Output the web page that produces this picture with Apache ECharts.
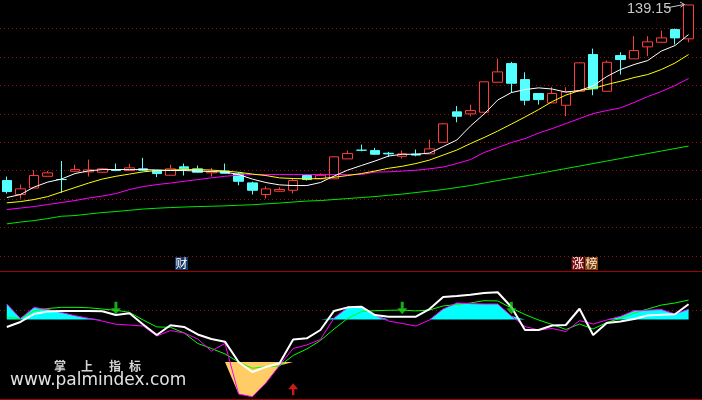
<!DOCTYPE html>
<html><head><meta charset="utf-8">
<script src="https://cdn.jsdelivr.net/npm/echarts@6/dist/echarts.min.js"></script>
<style>html,body{margin:0;padding:0;background:#000;}#c{width:702px;height:400px;}</style>
</head><body><div id="c"></div>
<script>
const days = ['01','02','03','04','05','06','07','08','09','10','11','12','13','14','15','16','17','18','19','20',
'21','22','23','24','25','26','27','28','29','30','31','32','33','34','35','36','37','38','39','40',
'41','42','43','44','45','46','47','48','49','50','51'];

// [open, close, low, high]
const candles = [
[108.27,106.33,105.98,108.97],[105.81,106.81,105.10,107.56],[106.95,109.15,106.95,110.08],[109.02,109.62,109.02,109.94],
[108.45,108.44,106.10,111.70],[109.90,110.20,109.85,111.08],[109.80,110.15,108.97,111.96],[109.73,110.33,109.67,110.50],
[110.20,110.03,109.94,111.26],[110.03,110.50,110.03,111.20],[110.33,110.08,110.03,112.26],[110.08,109.50,108.88,110.10],
[109.20,110.33,109.20,111.08],[110.68,110.33,109.15,111.26],[110.33,109.73,109.67,110.91],[109.62,109.85,108.97,110.50],
[109.94,109.55,109.50,111.26],[109.45,108.14,107.44,109.76],[107.86,106.56,105.81,108.09],[105.81,106.81,105.10,107.27],
[106.39,106.69,106.33,107.09],[106.56,108.27,105.98,108.74],[109.15,108.44,108.27,109.32],[108.57,109.20,108.44,109.50],
[108.57,112.44,108.57,112.49],[112.08,113.02,112.08,113.54],[113.61,113.60,113.42,114.60],[113.54,112.89,112.84,114.02],
[113.07,112.96,112.44,113.32],[112.54,112.96,112.14,113.54],[112.93,112.75,112.54,113.72],[112.96,113.84,112.96,115.48],
[115.00,118.24,115.00,118.38],[120.35,119.58,118.52,121.37],[120.00,120.58,119.58,121.63],[120.28,125.63,120.28,125.68],
[125.56,127.38,125.56,129.72],[128.84,125.38,123.69,129.14],[126.03,122.39,121.51,127.31],[123.57,122.51,121.63,123.66],
[121.93,123.57,121.90,124.75],[121.51,123.87,119.58,124.68],[123.97,128.97,123.97,129.02],[130.43,124.40,123.27,131.48],
[123.97,129.07,123.97,129.37],[130.25,129.55,126.91,130.83],[129.67,131.13,129.67,133.65],[131.78,132.66,130.13,133.65],
[132.59,133.36,132.59,134.65],[134.82,133.36,132.19,135.00],[133.19,139.15,132.59,139.15]];

const ma5 = [105.28,105.81,107.12,108.00,108.53,109.50,109.97,110.20,110.20,110.20,
110.20,110.11,110.03,110.03,109.94,109.85,109.76,109.32,108.53,107.92,
107.51,107.39,107.39,107.92,109.06,110.11,110.91,111.70,112.58,112.89,
112.89,113.10,114.25,115.39,117.85,119.96,122.43,123.74,124.27,124.57,
124.36,123.83,124.10,124.92,126.56,127.79,128.67,129.37,131.04,132.01,133.94];
const ma10 = [104.35,104.57,104.93,105.45,106.25,107.04,107.83,108.53,109.02,109.41,
109.80,110.03,110.11,110.20,110.20,110.11,109.94,109.73,109.41,109.15,
108.74,108.62,108.57,108.62,108.85,109.15,109.50,109.94,110.43,110.78,
111.26,111.87,112.75,113.63,114.77,115.83,116.97,118.20,119.44,120.75,
122.16,123.30,124.10,124.45,125.15,125.73,126.38,126.91,127.79,128.93,130.43];
const ma20 = [103.17,103.43,103.70,104.05,104.40,104.75,105.19,105.54,105.98,106.69,
107.21,107.56,107.83,108.14,108.44,108.74,109.02,109.23,109.32,109.32,
109.32,109.32,109.32,109.32,109.32,109.32,109.32,109.76,109.80,109.94,
110.08,110.33,110.64,111.26,111.96,113.19,114.07,114.95,115.65,116.62,
117.41,118.29,119.17,120.05,120.58,121.05,121.99,123.04,123.92,124.98,126.21];
const ma60 = [100.65,100.97,101.23,101.58,101.99,102.11,102.38,102.64,102.82,103.04,
103.26,103.40,103.52,103.61,103.70,103.75,103.82,103.92,104.01,104.17,
104.31,104.49,104.66,104.75,104.93,105.10,105.28,105.45,105.68,105.89,
106.16,106.42,106.69,107.04,107.39,107.83,108.27,108.67,109.09,109.50,
109.94,110.38,110.82,111.26,111.70,112.14,112.58,113.02,113.46,113.90,114.34];

// lower indicator
const indWhite = [56.3,60.2,66.4,68.4,68.8,68.8,68.8,68.5,65.6,67.0,
58.2,50.0,57.6,56.3,50.4,46.9,44.8,28.9,21.1,25.0,
27.9,46.5,47.4,53.9,68.8,71.6,72.1,65.6,64.3,64.3,
64.3,70.3,79.7,80.5,81.5,82.8,83.4,71.9,53.9,53.9,
57.4,57.8,70.5,50.0,59.4,60.5,62.5,65.2,65.9,66.2,74.0];
const indMagenta = [74.2,62.9,71.5,69.9,67.6,65.1,63.0,60.9,58.4,57.8,
57.0,49.2,53.5,51.6,46.9,37.5,43.4,3.9,1.8,12.5,
26.2,39.5,42.2,46.5,63.3,71.5,72.1,65.4,60.9,59.0,
57.0,61.7,70.3,75.0,74.5,74.2,74.2,64.8,56.6,53.9,
55.1,52.7,61.2,58.6,61.7,64.5,69.0,69.4,69.9,66.4,70.1];
const indGreen = [63.7,62.9,68.8,70.7,71.6,71.6,71.3,70.3,69.3,67.7,
61.7,56.3,56.0,51.6,43.4,39.5,35.2,28.9,24.0,25.2,
25.8,34.0,39.1,45.7,54.7,62.9,68.2,69.0,69.3,69.5,
68.8,69.5,72.7,73.8,75.0,76.8,76.6,71.1,66.0,61.7,
58.2,54.3,58.6,54.7,59.8,63.0,67.0,70.3,73.4,75.0,77.3];
const upperBand = 62.1;
const lowerBand = 28.9;
const sellIdx = [8, 29, 37];
const sellLevel = [71.1, 71.1, 71.1];
const buyIdx = [21];
const buyLevel = [7.7];

const priceTicks = {min: 95, max: 140, interval: 5};
const lowerGuide = {min: 0, max: 100, interval: 69.5};

const cyanFill = indMagenta.map(v => Math.max(v, upperBand));
const orangeFill = indMagenta.map(v => Math.min(v, lowerBand));

const chart = echarts.init(document.getElementById('c'));
const gridRed = '#a40000';
const dotted = {color: '#9a1010', type: [1, 3], width: 1};
const hiddenCat = (g) => ({type: 'category', gridIndex: g, data: days, boundaryGap: true, show: false});

chart.setOption({
  backgroundColor: '#000',
  animation: false,
  grid: [
    {left: -1.8, top: 0.13, width: 697.2, height: 255.87},
    {left: -1.8, top: 271, width: 697.2, height: 128},
    {left: 0, top: 0.13, width: 702, height: 255.87},
    {left: 0, top: 271, width: 702, height: 128}
  ],
  xAxis: [
    hiddenCat(0), hiddenCat(1),
    {type: 'value', gridIndex: 2, min: 0, max: 1, show: false},
    {type: 'value', gridIndex: 3, min: 0, max: 1, position: 'bottom',
     axisLine: {show: true, lineStyle: {color: gridRed, width: 1}}, axisTick: {show: false}, axisLabel: {show: false}, splitLine: {show: false}},
    {type: 'value', gridIndex: 3, min: 0, max: 1, position: 'top',
     axisLine: {show: true, lineStyle: {color: gridRed, width: 1}}, axisTick: {show: false}, axisLabel: {show: false}, splitLine: {show: false}}
  ],
  yAxis: [
    {type: 'value', gridIndex: 0, min: priceTicks.min, max: priceTicks.max, show: false},
    {type: 'value', gridIndex: 1, min: lowerGuide.min, max: lowerGuide.max, show: false},
    {type: 'value', gridIndex: 2, min: priceTicks.min, max: priceTicks.max, interval: priceTicks.interval,
     axisLine: {show: false}, axisTick: {show: false}, axisLabel: {show: false},
     splitLine: {show: true, showMaxLine: false, lineStyle: dotted}},
    {type: 'value', gridIndex: 3, min: lowerGuide.min, max: lowerGuide.max, interval: lowerGuide.interval,
     axisLine: {show: false}, axisTick: {show: false}, axisLabel: {show: false},
     splitLine: {show: true, showMaxLine: false, showMinLine: false, lineStyle: dotted}}
  ],
  series: [
    {type: 'candlestick', xAxisIndex: 0, yAxisIndex: 0, data: candles, barWidth: 10, z: 2,
     itemStyle: {color: '#000', color0: '#54ffff', borderColor: '#ff3c3c', borderColor0: '#54ffff', borderWidth: 1}},
    {type: 'line', xAxisIndex: 0, yAxisIndex: 0, data: ma60, symbol: 'none', z: 3, lineStyle: {color: '#00e800', width: 1}},
    {type: 'line', xAxisIndex: 0, yAxisIndex: 0, data: ma20, symbol: 'none', z: 3, lineStyle: {color: '#ff00ff', width: 1}},
    {type: 'line', xAxisIndex: 0, yAxisIndex: 0, data: ma10, symbol: 'none', z: 3, lineStyle: {color: '#ffff00', width: 1}},
    {type: 'line', xAxisIndex: 0, yAxisIndex: 0, data: ma5, symbol: 'none', z: 3, lineStyle: {color: '#ffffff', width: 1}},

    {type: 'line', xAxisIndex: 1, yAxisIndex: 1, data: cyanFill, symbol: 'none', z: 2,
     lineStyle: {width: 0}, areaStyle: {color: '#00ffff', opacity: 1, origin: upperBand}},
    {type: 'line', xAxisIndex: 1, yAxisIndex: 1, data: orangeFill, symbol: 'none', z: 2,
     lineStyle: {width: 0}, areaStyle: {color: '#ffcc66', opacity: 1, origin: lowerBand}},
    {type: 'line', xAxisIndex: 1, yAxisIndex: 1, data: indGreen, symbol: 'none', z: 3, lineStyle: {color: '#00ff00', width: 1}},
    {type: 'line', xAxisIndex: 1, yAxisIndex: 1, data: indMagenta, symbol: 'none', z: 3, lineStyle: {color: '#ff00ff', width: 1}},
    {type: 'line', xAxisIndex: 1, yAxisIndex: 1, data: indWhite, symbol: 'none', z: 4, lineStyle: {color: '#ffffff', width: 2}},
    {type: 'scatter', xAxisIndex: 1, yAxisIndex: 1, z: 5,
     data: sellIdx.map((d, k) => [days[d], sellLevel[k]]),
     symbol: 'path://M3.5,0 L6.5,0 L6.5,6.5 L10,6.5 L5,12.3 L0,6.5 L3.5,6.5 Z', symbolSize: [10, 12.3],
     itemStyle: {color: '#1fd21f'}},
    {type: 'scatter', xAxisIndex: 1, yAxisIndex: 1, z: 5,
     data: buyIdx.map((d, k) => [days[d], buyLevel[k]]),
     symbol: 'path://M5,0 L10,6 L6.2,6 L6.2,12 L3.8,12 L3.8,6 L0,6 Z', symbolSize: [10, 12],
     itemStyle: {color: '#ff2020'}}
  ],
  graphic: [
    {type: 'rect', shape: {x: 175, y: 257, width: 13, height: 13}, style: {fill: '#17396a'}, z: 10},
    {type: 'text', x: 181.5, y: 263.5, z: 11, style: {text: '财', fill: '#ffffff', font: '12px "Noto Sans CJK SC"', textAlign: 'center', textVerticalAlign: 'middle'}},
    {type: 'rect', shape: {x: 571.5, y: 257, width: 13, height: 13}, style: {fill: '#7a1010'}, z: 10},
    {type: 'text', x: 578, y: 263.5, z: 11, style: {text: '涨', fill: '#ffffff', font: '12px "Noto Sans CJK SC"', textAlign: 'center', textVerticalAlign: 'middle'}},
    {type: 'rect', shape: {x: 585, y: 257, width: 13, height: 13}, style: {fill: '#7a4514'}, z: 10},
    {type: 'text', x: 591.5, y: 263.5, z: 11, style: {text: '榜', fill: '#ffe8d0', font: '12px "Noto Sans CJK SC"', textAlign: 'center', textVerticalAlign: 'middle'}},
    {type: 'text', x: 627, y: 8.5, z: 11, style: {text: '139.15', fill: '#c8c8c8', font: '14.5px "Liberation Sans Narrow", "Liberation Sans", sans-serif', textVerticalAlign: 'middle'}},
    {type: 'polyline', z: 11, shape: {points: [[666, 8], [684, 4.5]]}, style: {stroke: '#c8c8c8', lineWidth: 1, fill: null}},
    {type: 'polyline', z: 11, shape: {points: [[680, 2], [684.5, 4.5], [680.5, 7]]}, style: {stroke: '#c8c8c8', lineWidth: 1, fill: null}},
    {type: 'text', x: 54, y: 366, z: 11, style: {text: '掌', fill: '#d4d4d4', font: 'bold 12px "Noto Sans CJK SC"', textVerticalAlign: 'middle'}},
    {type: 'text', x: 81, y: 366, z: 11, style: {text: '上', fill: '#d4d4d4', font: 'bold 12px "Noto Sans CJK SC"', textVerticalAlign: 'middle'}},
    {type: 'text', x: 109, y: 366, z: 11, style: {text: '指', fill: '#d4d4d4', font: 'bold 12px "Noto Sans CJK SC"', textVerticalAlign: 'middle'}},
    {type: 'text', x: 129, y: 366, z: 11, style: {text: '标', fill: '#d4d4d4', font: 'bold 12px "Noto Sans CJK SC"', textVerticalAlign: 'middle'}},
    {type: 'text', x: 10, y: 381, z: 11, style: {text: 'www.palmindex.com', fill: '#e2e2e2', font: '17px "DejaVu Sans"', textVerticalAlign: 'middle'}}
  ]
});
</script></body></html>
